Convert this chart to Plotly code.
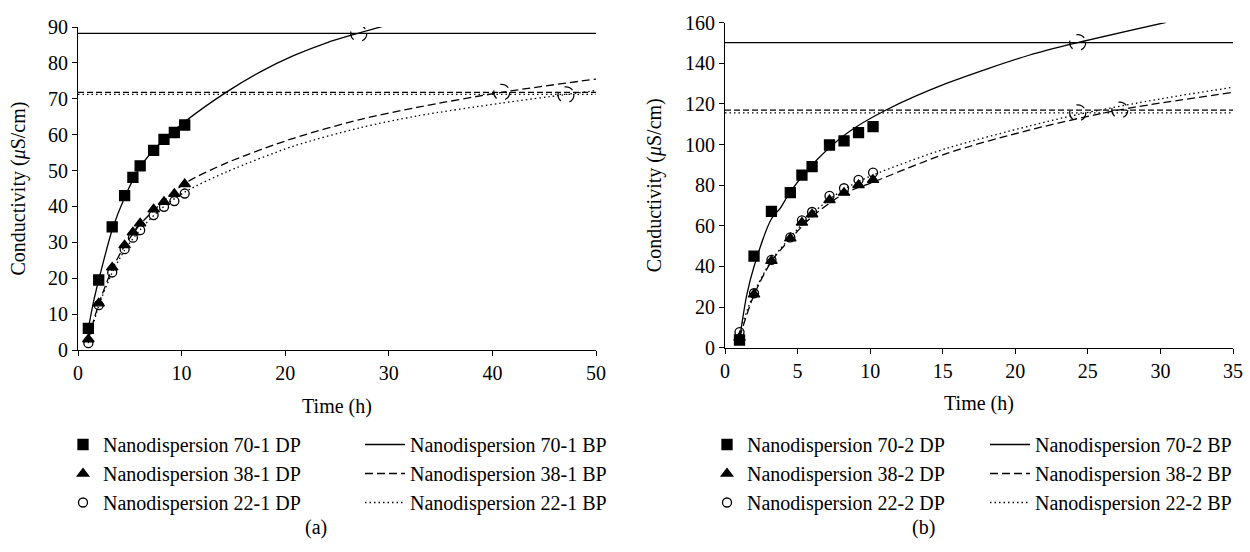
import plotly.graph_objects as go

# ---------------- data ----------------
# Panel (a)
time_a = [1, 2, 3.3, 4.5, 5.3, 6, 7.3, 8.3, 9.3, 10.3]
dp70_1 = [6.0, 19.5, 34.3, 43.0, 48.1, 51.3, 55.6, 58.7, 60.6, 62.7]
dp38_1 = [3.0, 13.0, 23.0, 29.2, 32.8, 35.3, 39.2, 41.3, 43.5, 46.2]
dp22_1 = [1.9, 12.5, 21.6, 28.1, 31.3, 33.4, 37.6, 39.9, 41.5, 43.6]

bp70_1_t = [1, 1.5, 2, 3.3, 4.5, 6, 8, 10.3, 14.4, 17.6, 20.8, 24.0, 27.1, 29.7]
bp70_1 = [6.0, 13.5, 19.5, 33.5, 42.5, 51.0, 57.8, 63.6, 72.0, 77.5, 82.0, 85.6, 88.3, 90.4]
bp38_1_t = [1, 2, 3.3, 4.5, 6, 8, 10.3, 14.4, 20.8, 27.2, 32.7, 40.9, 50]
bp38_1 = [3.0, 12.8, 22.5, 29.0, 35.0, 40.8, 46.4, 52.2, 59.0, 64.2, 67.6, 71.8, 75.5]
bp22_1_t = [1, 2, 3.3, 4.5, 6, 8, 10.3, 14.4, 20.8, 27.2, 32.7, 40.9, 47.1, 50]
bp22_1 = [1.9, 12.3, 21.5, 27.8, 33.5, 39.3, 44.0, 49.7, 56.8, 61.9, 65.2, 68.8, 71.2, 72.3]

level_a = [88.2, 71.8, 71.2]          # horizontal BP plateaus 70-1, 38-1, 22-1
cross_a_t = [27.1, 40.9, 47.1]        # dashed circles (intersections)
cross_a_v = [88.2, 71.8, 71.1]

# Panel (b)
time_b = [1, 2, 3.2, 4.5, 5.3, 6, 7.2, 8.2, 9.2, 10.2]
dp70_2 = [3.8, 45.1, 67.1, 76.3, 85.0, 89.1, 99.8, 101.8, 105.9, 108.8]
dp38_2 = [5.0, 26.3, 42.7, 53.8, 61.6, 65.7, 72.7, 76.3, 80.1, 82.6]
dp22_2 = [7.7, 26.8, 43.2, 54.3, 62.7, 66.8, 74.7, 78.5, 82.6, 86.2]

bp70_2_t = [1, 1.5, 2, 3.2, 3.8, 4.5, 6.1, 8.4, 11.1, 15.3, 21.0, 24.3, 30.4]
bp70_2 = [4.0, 26.0, 40.0, 63.5, 68.6, 76.8, 90.8, 105.6, 117.0, 130.2, 144.1, 150.2, 160.2]
bp38_2_t = [1, 2, 3.2, 4.5, 6, 8.2, 10.2, 15.3, 21.0, 27.1, 35]
bp38_2 = [5.0, 26.0, 42.5, 53.5, 64.5, 75.8, 81.5, 95.7, 107.2, 117.0, 125.7]
bp22_2_t = [1, 2, 3.2, 4.5, 6, 8.2, 10.2, 15.3, 21.0, 24.3, 30, 35]
bp22_2 = [7.7, 27.0, 43.0, 54.3, 66.0, 78.0, 85.0, 98.2, 109.2, 114.8, 122.5, 128.2]

level_b = [150.2, 117.0, 115.6]
cross_b_t = [24.3, 27.2, 24.3]
cross_b_v = [150.2, 117.0, 115.6]

names_a = ["Nanodispersion 70-1", "Nanodispersion 38-1", "Nanodispersion 22-1"]
names_b = ["Nanodispersion 70-2", "Nanodispersion 38-2", "Nanodispersion 22-2"]
xmax_a, ymax_a = 50, 90
xmax_b, ymax_b = 35, 160

# ---------------- styling ----------------
FONT = "Liberation Serif"
FS = 20
W, H = 1250, 552
symbols = ["square", "triangle-up", "circle-open"]
sizes = [10, 10, 9]
curve_dash = ["solid", "8px,4px", "1.5px,3px"]
level_dash = ["solid", "6px,3px", "1.5px,3px"]

fig = go.Figure()


def add_panel(xa, ya, times, dps, bpt, bps, levels, xmax, names, leg_dp, leg_bp, cross_t, cross_v):
    for i in range(3):
        # horizontal plateau line
        fig.add_trace(go.Scatter(
            x=[0, xmax], y=[levels[i], levels[i]], mode="lines",
            line=dict(color="black", width=1.3, dash=level_dash[i]),
            xaxis=xa, yaxis=ya, showlegend=False, hoverinfo="skip"))
        # fitted curve
        fig.add_trace(go.Scatter(
            x=bpt[i], y=bps[i], mode="lines", name=names[i] + " BP",
            line=dict(color="black", width=1.3, dash=curve_dash[i], shape="spline", smoothing=0.8),
            xaxis=xa, yaxis=ya, legend=leg_bp))
    for i in range(3):
        fig.add_trace(go.Scatter(
            x=times, y=dps[i], mode="markers", name=names[i] + " DP",
            marker=dict(symbol=symbols[i], size=sizes[i], color="black",
                        line=dict(color="black", width=1.3)),
            cliponaxis=False,
            xaxis=xa, yaxis=ya, legend=leg_dp))
    for t, v in zip(cross_t, cross_v):
        fig.add_shape(type="circle", xref=xa, yref=ya, xsizemode="pixel", ysizemode="pixel",
                      xanchor=t, yanchor=v, x0=-8, x1=8, y0=-8, y1=8,
                      line=dict(color="black", width=1.2, dash="dash"))


add_panel("x", "y", time_a, [dp70_1, dp38_1, dp22_1], [bp70_1_t, bp38_1_t, bp22_1_t],
          [bp70_1, bp38_1, bp22_1], level_a, xmax_a, names_a, "legend", "legend2",
          cross_a_t, cross_a_v)
add_panel("x2", "y2", time_b, [dp70_2, dp38_2, dp22_2], [bp70_2_t, bp38_2_t, bp22_2_t],
          [bp70_2, bp38_2, bp22_2], level_b, xmax_b, names_b, "legend3", "legend4",
          cross_b_t, cross_b_v)

axis_common = dict(showgrid=False, zeroline=False, showline=True, linecolor="black", linewidth=1,
                   ticks="outside", ticklen=5, tickcolor="black", tickwidth=1, automargin=False,
                   tickfont=dict(family=FONT, size=FS, color="black"))
ytitle = dict(text="Conductivity (<i>μ</i>S/cm)", standoff=17,
              font=dict(family=FONT, size=FS, color="black"))
xtitle = dict(text="Time (h)", font=dict(family=FONT, size=FS, color="black"))

legend_common = dict(font=dict(family=FONT, size=FS, color="black"), bgcolor="rgba(0,0,0,0)",
                     xanchor="left", yanchor="top", traceorder="normal")

LEG_TOP = 425
fig.update_layout(
    width=W, height=H, margin=dict(l=0, r=0, t=0, b=0, autoexpand=False),
    paper_bgcolor="white", plot_bgcolor="white",
    font=dict(family=FONT, size=FS, color="black"),
    xaxis=dict(domain=[78 / W, 596 / W], range=[0, xmax_a], dtick=10, anchor="y",
               title=xtitle, **axis_common),
    yaxis=dict(domain=[1 - 350 / H, 1 - 27 / H], range=[0, ymax_a], dtick=10, anchor="x",
               title=ytitle, **axis_common),
    xaxis2=dict(domain=[725 / W, 1233 / W], range=[0, xmax_b], dtick=5, anchor="y2",
                title=xtitle, **axis_common),
    yaxis2=dict(domain=[1 - 347.7 / H, 1 - 22.7 / H], range=[0, ymax_b], dtick=20, anchor="x2",
                title=ytitle, **axis_common),
    legend=dict(x=63 / W, y=1 - LEG_TOP / H, **legend_common),
    legend2=dict(x=360 / W, y=1 - LEG_TOP / H, itemwidth=40, **legend_common),
    legend3=dict(x=707 / W, y=1 - LEG_TOP / H, **legend_common),
    legend4=dict(x=985 / W, y=1 - LEG_TOP / H, itemwidth=40, **legend_common),
    annotations=[
        dict(text="(a)", x=303 / W, y=1 - 541 / H, xref="paper", yref="paper",
             showarrow=False, font=dict(family=FONT, size=FS, color="black")),
        dict(text="(b)", x=937 / W, y=1 - 541 / H, xref="paper", yref="paper",
             showarrow=False, font=dict(family=FONT, size=FS, color="black")),
    ],
)

fig.write_html("out.html", config={"displayModeBar": False},
               post_script="document.body.style.margin='0px';")
